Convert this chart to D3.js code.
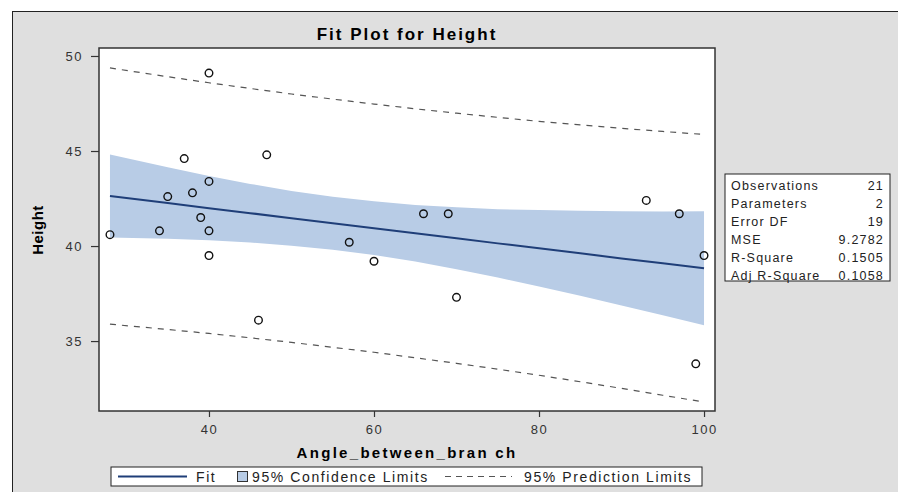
<!DOCTYPE html>
<html>
<head>
<meta charset="utf-8">
<script src="https://cdn.jsdelivr.net/npm/d3@7"></script>
<style>
  body { margin: 0; background: #fff; }
  svg { display: block; font-family: "Liberation Sans", Arial, sans-serif; }
</style>
</head>
<body>
<div id="chart"></div>
<script>

// observations
let angle  = [28, 34, 35, 37, 38, 39, 40, 40, 40, 40, 46, 47, 57, 60, 66, 69, 70, 93, 97, 99, 100];
let height = [40.6, 40.8, 42.6, 44.6, 42.8, 41.5, 49.1, 43.4, 40.8, 39.5, 36.1, 44.8, 40.2, 39.2, 41.7, 41.7, 37.3, 42.4, 41.7, 33.8, 39.5];

// fit, confidence and prediction limits
let gridX   = [28, 35, 40, 45, 50, 55, 60, 65, 70, 75, 80, 85, 90, 95, 100];
let fitY    = [42.63, 42.26, 41.99, 41.73, 41.46, 41.20, 40.94, 40.67, 40.41, 40.14, 39.88, 39.62, 39.35, 39.09, 38.83];
let clUpper = [44.81, 44.14, 43.68, 43.27, 42.90, 42.59, 42.35, 42.16, 42.04, 41.94, 41.89, 41.86, 41.83, 41.82, 41.83];
let clLower = [40.45, 40.38, 40.30, 40.19, 40.02, 39.81, 39.53, 39.18, 38.78, 38.34, 37.87, 37.39, 36.87, 36.36, 35.83];
let plUpper = [49.37, 48.91, 48.59, 48.29, 48.00, 47.73, 47.47, 47.22, 46.99, 46.77, 46.56, 46.38, 46.19, 46.03, 45.87];
let plLower = [35.89, 35.61, 35.40, 35.17, 34.93, 34.67, 34.41, 34.12, 33.83, 33.52, 33.20, 32.86, 32.51, 32.15, 31.79];

let xTicks = [40, 60, 80, 100];
let yTicks = [35, 40, 45, 50];

let statLabels = ["Observations", "Parameters", "Error DF", "MSE", "R-Square", "Adj R-Square"];
let statValues = ["21", "2", "19", "9.2782", "0.1505", "0.1058"];


let W = 898, H = 492;
let plot = {left: 99, top: 48, right: 715, bottom: 411};

let bandColor = "#b8cce6";
let fitColor = "#1f3e78";
let dashColor = "#555";

let svg = d3.select("#chart").append("svg")
    .attr("width", W)
    .attr("height", H);

// outer gray frame
svg.append("rect")
    .attr("x", 12.5).attr("y", 11.5)
    .attr("width", W).attr("height", H)
    .attr("fill", "#dfdfdf")
    .attr("stroke", "#222");

let x = d3.scaleLinear().domain([26.67, 101.33]).range([plot.left, plot.right]);
let y = d3.scaleLinear().domain([31.32, 50.42]).range([plot.bottom, plot.top]);

svg.append("rect")
    .attr("x", plot.left).attr("y", plot.top)
    .attr("width", plot.right - plot.left).attr("height", plot.bottom - plot.top)
    .attr("fill", "#fff");

let rows = gridX.map((gx, i) => ({x: gx, fit: fitY[i], cu: clUpper[i], cl: clLower[i], pu: plUpper[i], pl: plLower[i]}));

let area = d3.area()
    .x(d => x(d.x))
    .y0(d => y(d.cl))
    .y1(d => y(d.cu));

svg.append("path")
    .datum(rows)
    .attr("d", area)
    .attr("fill", bandColor);

function lineOf (key) {
  return d3.line().x(d => x(d.x)).y(d => y(d[key]));
}

for (let k of ["pu", "pl"]) {
  svg.append("path")
      .datum(rows)
      .attr("d", lineOf(k))
      .attr("fill", "none")
      .attr("stroke", dashColor)
      .attr("stroke-width", 1.2)
      .attr("stroke-dasharray", "6,6");
}

svg.append("path")
    .datum(rows)
    .attr("d", lineOf("fit"))
    .attr("fill", "none")
    .attr("stroke", fitColor)
    .attr("stroke-width", 2);

svg.selectAll("circle.obs")
    .data(angle.map((a, i) => [a, height[i]]))
    .enter().append("circle")
    .attr("class", "obs")
    .attr("cx", d => x(d[0]))
    .attr("cy", d => y(d[1]))
    .attr("r", 3.8)
    .attr("fill", "none")
    .attr("stroke", "#111")
    .attr("stroke-width", 1.4);

// plot border
svg.append("rect")
    .attr("x", plot.left).attr("y", plot.top)
    .attr("width", plot.right - plot.left).attr("height", plot.bottom - plot.top)
    .attr("fill", "none")
    .attr("stroke", "#333")
    .attr("stroke-width", 1.5);

// axes
let xAxis = svg.append("g")
    .attr("transform", `translate(0,${plot.bottom})`)
    .call(d3.axisBottom(x).tickValues(xTicks).tickSize(6).tickPadding(8));
let yAxis = svg.append("g")
    .attr("transform", `translate(${plot.left},0)`)
    .call(d3.axisLeft(y).tickValues(yTicks).tickSize(8).tickPadding(8));

for (let ax of [xAxis, yAxis]) {
  ax.select(".domain").remove();
  ax.selectAll(".tick line").attr("stroke", "#333").attr("stroke-width", 1.2);
  ax.selectAll(".tick text")
    .attr("fill", "#333")
    .style("font-size", "13px")
    .style("letter-spacing", "1.5px")
    .style("font-family", "Liberation Sans, Arial, sans-serif");
}

// titles
svg.append("text")
    .attr("x", (plot.left + plot.right) / 2).attr("y", 40)
    .attr("text-anchor", "middle")
    .style("font-size", "17px").style("font-weight", "bold").style("letter-spacing", "2px")
    .text("Fit Plot for Height");

svg.append("text")
    .attr("x", (plot.left + plot.right) / 2).attr("y", 458)
    .attr("text-anchor", "middle")
    .style("font-size", "15px").style("font-weight", "bold").style("letter-spacing", "2.3px")
    .text("Angle_between_bran ch");

svg.append("text")
    .attr("transform", `translate(43,230) rotate(-90)`)
    .attr("text-anchor", "middle")
    .style("font-size", "15px").style("font-weight", "bold").style("letter-spacing", "0.5px")
    .text("Height");

// legend
let leg = svg.append("g").attr("transform", "translate(111,467)");
leg.append("rect")
    .attr("width", 591).attr("height", 19)
    .attr("fill", "#fff").attr("stroke", "#222");
leg.append("line")
    .attr("x1", 7).attr("x2", 76).attr("y1", 9.5).attr("y2", 9.5)
    .attr("stroke", fitColor).attr("stroke-width", 2);
leg.append("text").attr("x", 85).attr("y", 14.5).text("Fit");
leg.append("rect")
    .attr("x", 126.5).attr("y", 4.5).attr("width", 10).attr("height", 10)
    .attr("fill", bandColor).attr("stroke", "#333");
leg.append("text").attr("x", 141).attr("y", 14.5).text("95% Confidence Limits");
leg.append("line")
    .attr("x1", 334).attr("x2", 401).attr("y1", 9.5).attr("y2", 9.5)
    .attr("stroke", dashColor).attr("stroke-width", 1).attr("stroke-dasharray", "6,5");
leg.append("text").attr("x", 413).attr("y", 14.5).text("95% Prediction Limits");
leg.selectAll("text")
    .style("font-size", "14px").style("letter-spacing", "1.6px").attr("fill", "#222");

// statistics table
let tbl = svg.append("g").attr("transform", "translate(725,174)");
tbl.append("rect")
    .attr("width", 165).attr("height", 107)
    .attr("fill", "#fff").attr("stroke", "#222");
tbl.selectAll("text.lab")
    .data(statLabels)
    .enter().append("text")
    .attr("class", "lab")
    .attr("x", 6).attr("y", (d, i) => 15.5 + i * 18)
    .text(d => d);
tbl.selectAll("text.val")
    .data(statValues)
    .enter().append("text")
    .attr("class", "val")
    .attr("x", 159).attr("y", (d, i) => 15.5 + i * 18)
    .attr("text-anchor", "end")
    .text(d => d);
tbl.selectAll("text")
    .style("font-size", "12.5px").style("letter-spacing", "1.2px").attr("fill", "#222");

</script>
</body>
</html>
